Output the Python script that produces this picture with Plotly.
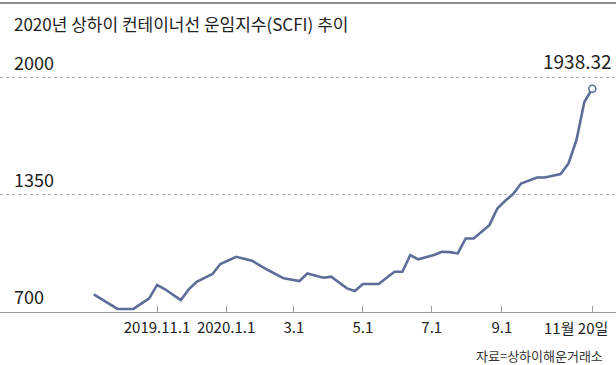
import plotly.graph_objects as go

# Weekly SCFI values (vertices)
dates = [
    "2019-09-06", "2019-09-27", "2019-10-11", "2019-10-25", "2019-11-01",
    "2019-11-08", "2019-11-22", "2019-11-29", "2019-12-06", "2019-12-20",
    "2019-12-27", "2020-01-10", "2020-01-24", "2020-02-07", "2020-02-21",
    "2020-03-06", "2020-03-13", "2020-03-27", "2020-04-03", "2020-04-17",
    "2020-04-24", "2020-05-01", "2020-05-15", "2020-05-29", "2020-06-05",
    "2020-06-12", "2020-06-19", "2020-07-03", "2020-07-10", "2020-07-17",
    "2020-07-24", "2020-07-31", "2020-08-07", "2020-08-21", "2020-08-28",
    "2020-09-04", "2020-09-11", "2020-09-18", "2020-10-02", "2020-10-09",
    "2020-10-23", "2020-10-30", "2020-11-06", "2020-11-13", "2020-11-20",
]
scfi = [
    798, 717, 717, 776, 850,
    826, 766, 826, 868, 911,
    966, 1006, 984, 933, 887,
    872, 914, 890, 896, 831,
    816, 855, 855, 923, 923,
    1016, 992, 1016, 1034, 1032,
    1025, 1108, 1108, 1182, 1274,
    1317, 1354, 1413, 1446, 1446,
    1465, 1524, 1653, 1865, 1938.32,
]

tick_dates = ["2019-11-01", "2020-01-01", "2020-03-01", "2020-05-01",
              "2020-07-01", "2020-09-01", "2020-11-20"]
tick_labels = ["2019.11.1", "2020.1.1", "3.1", "5.1", "7.1", "9.1", "11월 20일"]

y_levels = [700, 1350, 2000]
y_labels = ["700", "1350", "2000"]

title_text = "2020년 상하이 컨테이너선 운임지수(SCFI) 추이"
source_text = "자료=상하이해운거래소"
last_label = "1938.32"

FONT = "Noto Sans CJK KR"
LINE_COLOR = "#5b6d98"
TEXT = "#222222"
TICK_SIZE = 15

fig = go.Figure()
fig.add_trace(go.Scatter(
    x=dates, y=scfi, mode="lines",
    line=dict(color=LINE_COLOR, width=2.6),
    hoverinfo="skip", showlegend=False,
))
fig.add_trace(go.Scatter(
    x=[dates[-1]], y=[scfi[-1]], mode="markers",
    marker=dict(size=7, color="white", line=dict(color=LINE_COLOR, width=1.6)),
    hoverinfo="skip", showlegend=False,
))

annotations = []
for v, t in zip(y_levels, y_labels):
    annotations.append(dict(
        x=12 / 616, xref="paper", y=v, yref="y", text=t, showarrow=False,
        xanchor="left", yanchor="bottom", yshift=1,
        font=dict(family=FONT, size=18, color=TEXT),
    ))
annotations.append(dict(
    x=dates[-1], xref="x", y=scfi[-1], yref="y", text=last_label, showarrow=False,
    xanchor="center", yanchor="bottom", xshift=-15, yshift=13,
    font=dict(family=FONT, size=19, color=TEXT),
))
# last tick label sits left of its tick (as in the reference)
annotations.append(dict(
    x=tick_dates[-1], xref="x", y=0, yref="paper", text=tick_labels[-1],
    showarrow=False, xanchor="center", yanchor="top", xshift=-16, yshift=-3,
    font=dict(family=FONT, size=TICK_SIZE, color=TEXT),
))
annotations.append(dict(
    x=12 / 616, xref="paper", y=1 + 37 / 252, yref="paper", text=title_text,
    showarrow=False, xanchor="left", yanchor="middle",
    font=dict(family=FONT, size=17, color=TEXT),
))
annotations.append(dict(
    x=605 / 616, xref="paper", y=-(355 - 312) / 252, yref="paper", text=source_text,
    showarrow=False, xanchor="right", yanchor="middle",
    font=dict(family=FONT, size=13, color="#333333"),
))

shapes = [dict(
    type="line", xref="paper", yref="paper", x0=0, x1=1,
    y0=1 + 57 / 252, y1=1 + 57 / 252,
    line=dict(color="#666666", width=1.5),
)]

fig.update_layout(
    width=616, height=365,
    margin=dict(l=0, r=0, t=60, b=53, autoexpand=False),
    paper_bgcolor="white", plot_bgcolor="white",
    annotations=annotations, shapes=shapes,
    xaxis=dict(
        type="date", range=["2019-06-15", "2020-12-11"],
        tickvals=tick_dates, ticktext=tick_labels[:-1] + [""],
        ticks="inside", ticklen=6, tickcolor="#999999", tickwidth=1,
        showline=True, linecolor="#999999", linewidth=1,
        showgrid=False, zeroline=False, automargin=False,
        ticklabelstandoff=2,
        tickfont=dict(family=FONT, size=TICK_SIZE, color=TEXT),
    ),
    yaxis=dict(
        range=[700, 2098], tickvals=[1350, 2000], showticklabels=False,
        showgrid=True, gridcolor="#b5b5b5", griddash="dot", gridwidth=1,
        zeroline=False, showline=False, ticks="", automargin=False,
    ),
)

fig.write_html(
    "out.html",
    config={"displayModeBar": False},
    post_script="document.body.style.margin='0';document.body.style.overflow='hidden';",
)
